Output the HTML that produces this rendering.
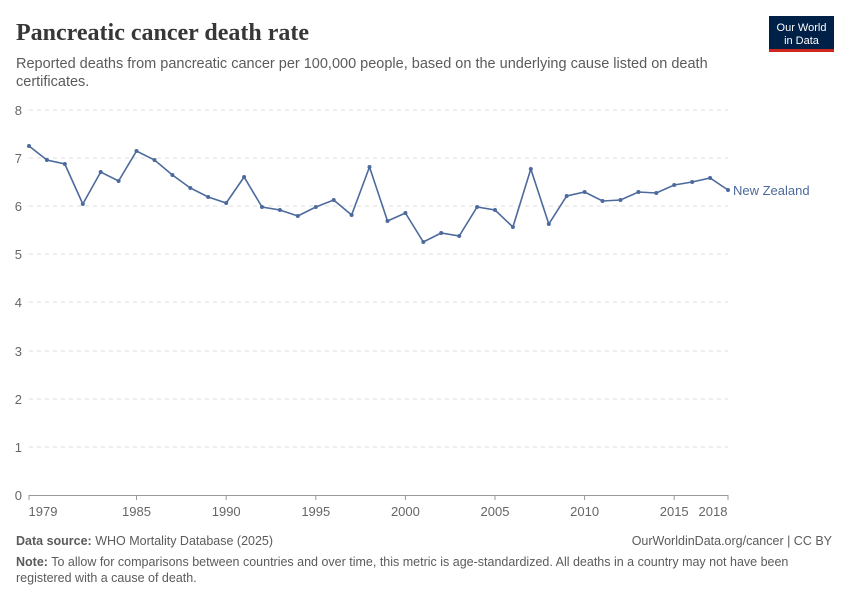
<!DOCTYPE html>
<html><head><meta charset="utf-8"><style>
body{margin:0;background:#fff;font-family:"Liberation Sans",sans-serif;}
</style></head><body>
<svg width="850" height="600" xmlns="http://www.w3.org/2000/svg" font-family="Liberation Sans, sans-serif">
<rect width="850" height="600" fill="#fff"/>
<text x="16" y="40" font-family="Liberation Serif, serif" font-size="24" font-weight="bold" fill="#373737">Pancreatic cancer death rate</text>
<text x="16" y="68" font-size="14.5" fill="#5b5b5b">Reported deaths from pancreatic cancer per 100,000 people, based on the underlying cause listed on death</text>
<text x="16" y="86" font-size="14.5" fill="#5b5b5b">certificates.</text>
<rect x="769" y="16" width="65" height="34" fill="#002147"/>
<rect x="769" y="49" width="65" height="3" fill="#ce261e"/>
<text x="801.5" y="31" font-size="11" fill="#fff" text-anchor="middle">Our World</text>
<text x="801.5" y="44" font-size="11" fill="#fff" text-anchor="middle">in Data</text>
<g stroke="#ddd" stroke-dasharray="4,4" stroke-width="1">
<line x1="29" x2="728" y1="110" y2="110"/><line x1="29" x2="728" y1="158" y2="158"/>
<line x1="29" x2="728" y1="206" y2="206"/><line x1="29" x2="728" y1="254" y2="254"/>
<line x1="29" x2="728" y1="302" y2="302"/><line x1="29" x2="728" y1="351" y2="351"/>
<line x1="29" x2="728" y1="399" y2="399"/><line x1="29" x2="728" y1="447" y2="447"/>
</g>
<line x1="29" x2="728" y1="495.5" y2="495.5" stroke="#999"/>
<g font-size="13" fill="#666" text-anchor="end">
<text x="22" y="115">8</text><text x="22" y="163">7</text><text x="22" y="211">6</text><text x="22" y="259">5</text>
<text x="22" y="307">4</text><text x="22" y="356">3</text><text x="22" y="404">2</text><text x="22" y="452">1</text><text x="22" y="500">0</text>
</g>
<g stroke="#999">
<line x1="29" x2="29" y1="495" y2="500"/><line x1="136.5" x2="136.5" y1="495" y2="500"/><line x1="226.2" x2="226.2" y1="495" y2="500"/>
<line x1="315.8" x2="315.8" y1="495" y2="500"/><line x1="405.4" x2="405.4" y1="495" y2="500"/><line x1="495" x2="495" y1="495" y2="500"/>
<line x1="584.6" x2="584.6" y1="495" y2="500"/><line x1="674.2" x2="674.2" y1="495" y2="500"/><line x1="728" x2="728" y1="495" y2="500"/>
</g>
<g font-size="13" fill="#666" text-anchor="middle">
<text x="43" y="516">1979</text><text x="136.5" y="516">1985</text><text x="226.2" y="516">1990</text><text x="315.8" y="516">1995</text>
<text x="405.4" y="516">2000</text><text x="495" y="516">2005</text><text x="584.6" y="516">2010</text><text x="674.2" y="516">2015</text><text x="713" y="516">2018</text>
</g>
<polyline fill="none" stroke="#4c6a9c" stroke-width="1.6" points="29,146 46.9,160 64.8,164 82.8,204 100.7,172 118.6,181 136.5,151 154.5,160 172.4,175 190.3,188 208.2,197 226.2,203 244.1,177 262,207 279.9,210 297.8,216 315.8,207 333.7,200 351.6,215 369.5,167 387.5,221 405.4,213 423.3,242 441.2,233 459.2,236 477.1,207 495,210 512.9,227 530.8,169 548.8,224 566.7,196 584.6,192 602.5,201 620.5,200 638.4,192 656.3,193 674.2,185 692.2,182 710.1,178 728,190"/>
<g fill="#4c6a9c">
<circle cx="29" cy="146" r="2"/><circle cx="46.9" cy="160" r="2"/><circle cx="64.8" cy="164" r="2"/><circle cx="82.8" cy="204" r="2"/><circle cx="100.7" cy="172" r="2"/><circle cx="118.6" cy="181" r="2"/><circle cx="136.5" cy="151" r="2"/><circle cx="154.5" cy="160" r="2"/><circle cx="172.4" cy="175" r="2"/><circle cx="190.3" cy="188" r="2"/><circle cx="208.2" cy="197" r="2"/><circle cx="226.2" cy="203" r="2"/><circle cx="244.1" cy="177" r="2"/><circle cx="262" cy="207" r="2"/><circle cx="279.9" cy="210" r="2"/><circle cx="297.8" cy="216" r="2"/><circle cx="315.8" cy="207" r="2"/><circle cx="333.7" cy="200" r="2"/><circle cx="351.6" cy="215" r="2"/><circle cx="369.5" cy="167" r="2"/><circle cx="387.5" cy="221" r="2"/><circle cx="405.4" cy="213" r="2"/><circle cx="423.3" cy="242" r="2"/><circle cx="441.2" cy="233" r="2"/><circle cx="459.2" cy="236" r="2"/><circle cx="477.1" cy="207" r="2"/><circle cx="495" cy="210" r="2"/><circle cx="512.9" cy="227" r="2"/><circle cx="530.8" cy="169" r="2"/><circle cx="548.8" cy="224" r="2"/><circle cx="566.7" cy="196" r="2"/><circle cx="584.6" cy="192" r="2"/><circle cx="602.5" cy="201" r="2"/><circle cx="620.5" cy="200" r="2"/><circle cx="638.4" cy="192" r="2"/><circle cx="656.3" cy="193" r="2"/><circle cx="674.2" cy="185" r="2"/><circle cx="692.2" cy="182" r="2"/><circle cx="710.1" cy="178" r="2"/><circle cx="728" cy="190" r="2"/>
</g>
<text x="733" y="195" font-size="13" fill="#4c6a9c">New Zealand</text>
<text x="16" y="545" font-size="12.5" fill="#5b5b5b"><tspan font-weight="bold">Data source:</tspan> WHO Mortality Database (2025)</text>
<text x="832" y="545" font-size="12.5" fill="#5b5b5b" text-anchor="end">OurWorldinData.org/cancer | CC BY</text>
<text x="16" y="566" font-size="12.5" fill="#5b5b5b"><tspan font-weight="bold">Note:</tspan> To allow for comparisons between countries and over time, this metric is age-standardized. All deaths in a country may not have been</text>
<text x="16" y="582" font-size="12.5" fill="#5b5b5b">registered with a cause of death.</text>
</svg>
</body></html>
